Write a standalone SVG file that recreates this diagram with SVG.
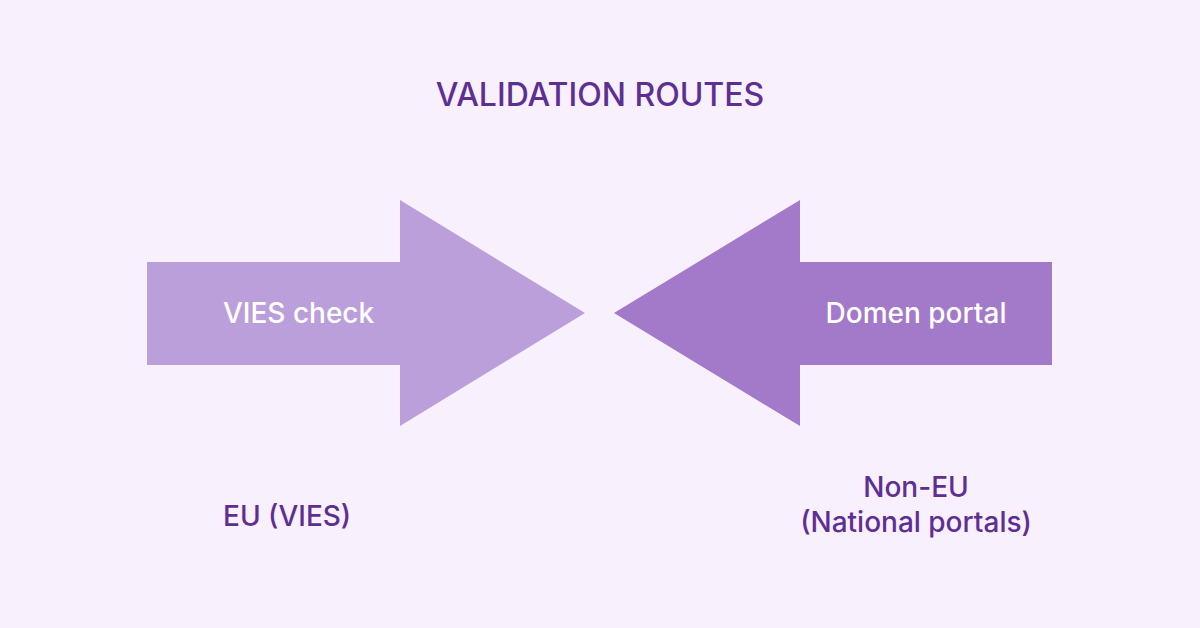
<svg xmlns="http://www.w3.org/2000/svg" width="1200" height="628" viewBox="0 0 1200 628">
<style>
.t{font-family:Inter,"Liberation Sans",sans-serif;fill:#5e2f93;font-size:28px;font-weight:500;text-anchor:middle}
.w{font-family:Inter,"Liberation Sans",sans-serif;fill:#ffffff;font-size:28px;font-weight:500;text-anchor:middle}
.s{text-anchor:start}
</style>
<rect width="1200" height="628" fill="#f8f1fd"/>
<text class="t" x="600" y="106" style="font-size:32px">VALIDATION ROUTES</text>
<g id="connectors"></g>
<g id="vies">
<polygon points="147,262 400,262 400,200 585,313 400,426 400,365 147,365" fill="#bb9fdb"/>
<text class="w s" x="223" y="323">VIES check</text>
</g>
<g id="domen">
<polygon points="1052,262 800,262 800,200 614,313 800,426 800,365 1052,365" fill="#a379c9"/>
<text class="w" x="916" y="323">Domen portal</text>
</g>
<g id="eu"><text class="t s" x="223" y="526">EU (VIES)</text></g>
<g id="noneu"><text class="t" x="916" y="497">Non-EU</text><text class="t" x="916" y="532">(National portals)</text></g>
</svg>
